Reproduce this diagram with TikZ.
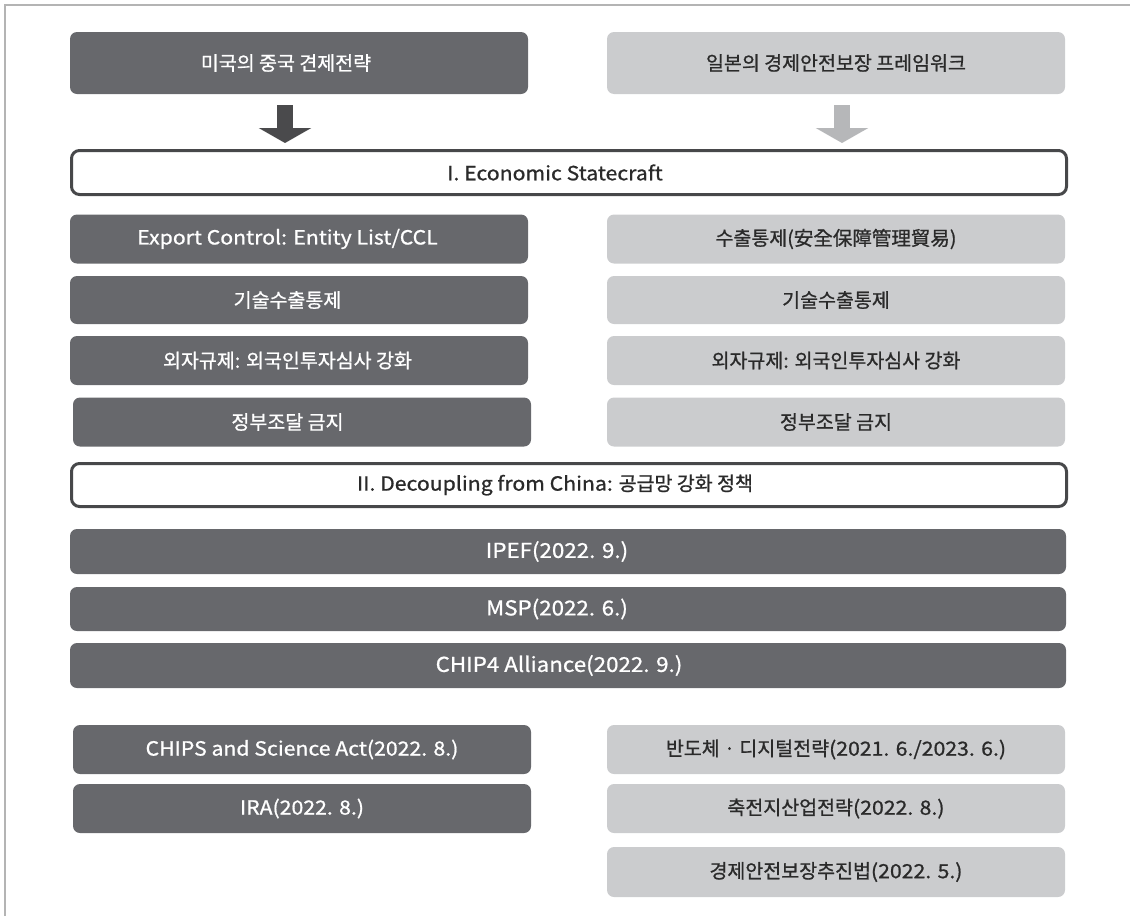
\documentclass[tikz,border=0pt]{standalone}
\usepackage{fontspec}
\setmainfont[FakeBold=0.9]{Noto Sans CJK KR}
\newfontfamily\latf[FakeStretch=1.09,FakeBold=0.9]{Noto Sans CJK KR}
\newcommand{\lat}[1]{{\latf #1}}
\usetikzlibrary{arrows.meta}
\definecolor{dk}{HTML}{67686C}
\definecolor{lt}{HTML}{CBCCCE}
\definecolor{txtdk}{HTML}{2A2A2A}
\definecolor{secline}{HTML}{47484A}
\definecolor{arrdk}{HTML}{4A4A4C}
\definecolor{arrlt}{HTML}{B6B7B9}
\definecolor{framegray}{HTML}{B4B4B4}
\newcommand{\myshiftleft}[1]{\hspace*{-#1pt}}
\tikzset{
  base/.style={rounded corners=7pt, inner sep=0pt, font=\fontsize{19.5}{23}\selectfont},
  dbox/.style={base, fill=dk, text=white},
  lbox/.style={base, fill=lt, text=txtdk},
  secbox/.style={base, draw=secline, line width=3pt, fill=white, text=txtdk, rounded corners=8pt},
  colL/.style={minimum width=458pt},
  colR/.style={minimum width=458pt},
  wide/.style={minimum width=996pt, font=\fontsize{20.5}{25}\selectfont},
  bigarrow/.style={line width=16pt, -{Triangle[width=52pt,length=15pt]}}
}
\begin{document}
\begin{tikzpicture}[x=1pt,y=-1pt]
\useasboundingbox (0,0) rectangle (1130,916);
% frame
\draw[framegray, line width=1.5pt] (5,916) -- (5,5) -- (1130,5);

% top boxes
\node[dbox, colL, minimum height=62pt] (us) at (299,63) {\myshiftleft{26}미국의 중국 견제전략};
\node[lbox, colR, minimum height=62pt] (jp) at (836,63) {일본의 경제안전보장 프레임워크};

% section I
\node[secbox, minimum width=995pt, minimum height=44pt] (s1) at (569,172.5) {\myshiftleft{28}\lat{I. Economic Statecraft}};

% arrows
\coordinate (a1s) at (285,94);
\coordinate (a1e) at (285,149);
\coordinate (a2s) at (842,94);
\coordinate (a2e) at (842,149);
\draw[bigarrow, arrdk, shorten <=11pt, shorten >=6pt] (a1s) -- (a1e);
\draw[bigarrow, arrlt, shorten <=11pt, shorten >=6pt] (a2s) -- (a2e);

% US statecraft items
\node[dbox, colL, minimum height=49pt] (u1) at (299,239) {\myshiftleft{23}\lat{Export Control: Entity List/CCL}};
\node[dbox, colL, minimum height=48pt] (u2) at (299,300) {\myshiftleft{23}기술수출통제};
\node[dbox, colL, minimum height=49pt] (u3) at (299,360.5) {\myshiftleft{23}외자규제: 외국인투자심사 강화};
\node[dbox, colL, minimum height=49pt] (u4) at (302,422) {\myshiftleft{29}정부조달 금지};

% Japan statecraft items
\node[lbox, colR, minimum height=49pt] (j1) at (836,239) {수출통제(安全保障管理貿易)};
\node[lbox, colR, minimum height=48pt] (j2) at (836,300) {기술수출통제};
\node[lbox, colR, minimum height=49pt] (j3) at (836,360.5) {외자규제: 외국인투자심사 강화};
\node[lbox, colR, minimum height=49pt] (j4) at (836,422) {정부조달 금지};

% section II
\node[secbox, minimum width=995pt, minimum height=43pt] (s2) at (569,485) {\myshiftleft{28}\lat{II. Decoupling from China:} 공급망 강화 정책};

% wide bars
\node[dbox, wide, minimum height=45pt] (w1) at (568,551.5) {\myshiftleft{22}\lat{IPEF(2022. 9.)}};
\node[dbox, wide, minimum height=44pt] (w2) at (568,609) {\myshiftleft{22}\lat{MSP(2022. 6.)}};
\node[dbox, wide, minimum height=45pt] (w3) at (568,665.5) {\myshiftleft{18}\lat{CHIP4 Alliance(2022. 9.)}};

% bottom left
\node[dbox, colL, minimum height=49pt] (c1) at (302,749.5) {\lat{CHIPS and Science Act(2022. 8.)}};
\node[dbox, colL, minimum height=49pt] (c2) at (302,808.5) {\lat{IRA(2022. 8.)}};

% bottom right
\node[lbox, colR, minimum height=49pt] (r1) at (836,749.5) {반도체 · 디지털전략\lat{(2021. 6./2023. 6.)}};
\node[lbox, colR, minimum height=49pt] (r2) at (836,808.5) {축전지산업전략\lat{(2022. 8.)}};
\node[lbox, colR, minimum height=50pt] (r3) at (836,872) {경제안전보장추진법\lat{(2022. 5.)}};
\end{tikzpicture}
\end{document}
